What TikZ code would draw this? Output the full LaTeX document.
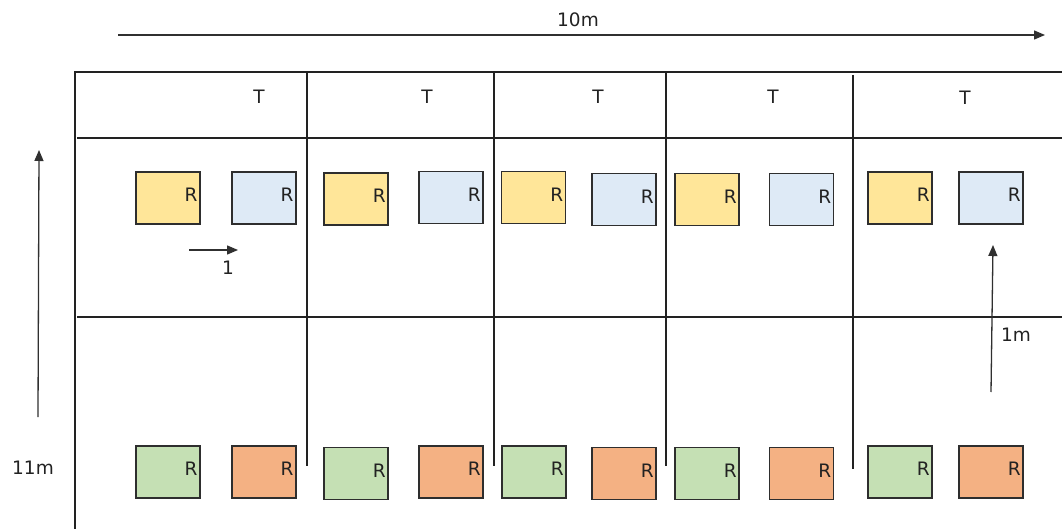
\documentclass[tikz,border=0pt]{standalone}
\usepackage{fontspec}
\setmainfont{DejaVu Sans}
\usetikzlibrary{arrows.meta}
\definecolor{ink}{HTML}{222222}
\definecolor{boxline}{HTML}{2E2E2E}
\definecolor{dimline}{HTML}{303030}
\definecolor{yel}{HTML}{FFE699}
\definecolor{blu}{HTML}{DEEAF6}
\definecolor{grn}{HTML}{C5E0B4}
\definecolor{org}{HTML}{F4B183}
\tikzset{
  wall/.style={draw=ink, line width=1.3pt},
  dimarrow/.style={draw=dimline, line width=1.3pt, -{Triangle[length=11pt,width=9pt]}},
  lbl/.style={font=\fontsize{18.5}{22}\selectfont, text=ink, inner sep=0pt},
  rack/.style={draw=boxline, line width=1.6pt, minimum width=64pt, minimum height=52pt, inner sep=0pt},
  rlabel/.style={font=\fontsize{18.5}{22}\selectfont, text=ink, inner sep=0pt, anchor=east},
}
\begin{document}
\begin{tikzpicture}[x=1pt,y=-1pt]
\useasboundingbox (0,0) rectangle (1062,529);

% outer frame and row separators
\draw[wall] (75,529) -- (75,72) -- (1062,72);
\draw[wall] (77,138) -- (1062,138);
\draw[wall] (77,317) -- (1062,317);

% bay dividers
\draw[wall] (307,72) -- (307,466);
\draw[wall] (494,72) -- (494,466);
\draw[wall] (666,72) -- (666,466);
\draw[wall] (853,75) -- (853,469);

% bay labels
\node[lbl] (t1) at (259,97) {T};
\node[lbl] (t2) at (427,97) {T};
\node[lbl] (t3) at (598,97) {T};
\node[lbl] (t4) at (773,97) {T};
\node[lbl] (t5) at (965,98) {T};

% upper row of racks
\foreach \n/\x/\y/\c in {a1/168/198/yel, a2/264/198/blu, a3/356/199/yel, a4/451/197.5/blu, a5/533.5/197.5/yel,
                         a6/624/199.5/blu, a7/707/199.5/yel, a8/801.5/199.5/blu, a9/900/198/yel, a10/991/198/blu}
  \node[rack, fill=\c] (\n) at (\x,\y) {};
% lower row of racks
\foreach \n/\x/\y/\c in {b1/168/472/grn, b2/264/472/org, b3/356/473.5/grn, b4/451/472/org, b5/534/472/grn,
                         b6/624/473.5/org, b7/707/473.5/grn, b8/801.5/473.5/org, b9/900/472/grn, b10/991/472/org}
  \node[rack, fill=\c] (\n) at (\x,\y) {};

\foreach \n in {a1,a2,a3,a4,a5,a6,a7,a8,a9,a10,b1,b2,b3,b4,b5,b6,b7,b8,b9,b10}
  \node[rlabel] (r\n) at ([xshift=-3pt,yshift=3pt]\n.east) {R};

% dimension arrows
\coordinate (w0) at (118,35);
\coordinate (w1) at (1045,35);
\draw[dimarrow] (w0) -- (w1);
\node[lbl] (wl) at (578,20) {10m};

\coordinate (h0) at (38,417);
\coordinate (h1) at (39,150);
\draw[dimarrow] (h0) -- (h1);
\node[lbl] (hl) at (33,468) {11m};

\coordinate (s0) at (189,250);
\coordinate (s1) at (238,250);
\draw[dimarrow] (s0) -- (s1);
\node[lbl] (sl) at (228,268) {1};

\coordinate (g0) at (991,392);
\coordinate (g1) at (993,245);
\draw[dimarrow] (g0) -- (g1);
\node[lbl] (gl) at (1016,335) {1m};
\end{tikzpicture}
\end{document}
